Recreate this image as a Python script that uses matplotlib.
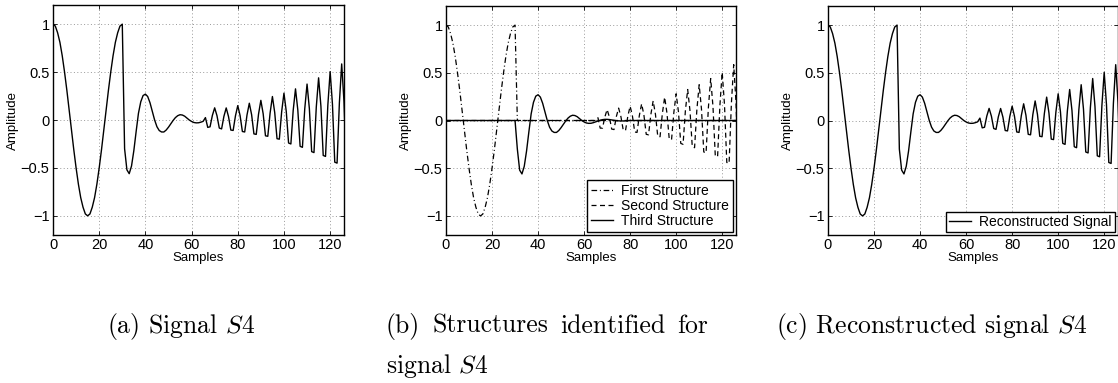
import numpy as np
import matplotlib
matplotlib.use("Agg")
import matplotlib.pyplot as plt

plt.rcParams['font.family'] = ['Liberation Sans', 'DejaVu Sans']
plt.rcParams['mathtext.fontset'] = 'cm'

# ---------------- data ----------------
samples = np.arange(128)

first_structure = [
    1.00, 0.98, 0.91, 0.81, 0.67, 0.50, 0.31, 0.10, -0.10, -0.31,
    -0.50, -0.67, -0.81, -0.91, -0.98, -1.00, -0.98, -0.91, -0.81, -0.67,
    -0.50, -0.31, -0.10, 0.10, 0.31, 0.50, 0.67, 0.81, 0.91, 0.98,
    1.00, 0.0, 0.0, 0.0, 0.0, 0.0, 0.0, 0.0, 0.0, 0.0,
    0.0, 0.0, 0.0, 0.0, 0.0, 0.0, 0.0, 0.0, 0.0, 0.0,
    0.0, 0.0, 0.0, 0.0, 0.0, 0.0, 0.0, 0.0, 0.0, 0.0,
    0.0, 0.0, 0.0, 0.0, 0.0, 0.0, 0.0, 0.0, 0.0, 0.0,
    0.0, 0.0, 0.0, 0.0, 0.0, 0.0, 0.0, 0.0, 0.0, 0.0,
    0.0, 0.0, 0.0, 0.0, 0.0, 0.0, 0.0, 0.0, 0.0, 0.0,
    0.0, 0.0, 0.0, 0.0, 0.0, 0.0, 0.0, 0.0, 0.0, 0.0,
    0.0, 0.0, 0.0, 0.0, 0.0, 0.0, 0.0, 0.0, 0.0, 0.0,
    0.0, 0.0, 0.0, 0.0, 0.0, 0.0, 0.0, 0.0, 0.0, 0.0,
    0.0, 0.0, 0.0, 0.0, 0.0, 0.0, 0.0, 0.0,
]

second_structure = [
    0.0, 0.0, 0.0, 0.0, 0.0, 0.0, 0.0, 0.0, 0.0, 0.0,
    0.0, 0.0, 0.0, 0.0, 0.0, 0.0, 0.0, 0.0, 0.0, 0.0,
    0.0, 0.0, 0.0, 0.0, 0.0, 0.0, 0.0, 0.0, 0.0, 0.0,
    0.0, 0.0, 0.0, 0.0, 0.0, 0.0, 0.0, 0.0, 0.0, 0.0,
    0.0, 0.0, 0.0, 0.0, 0.0, 0.0, 0.0, 0.0, 0.0, 0.0,
    0.0, 0.0, 0.0, 0.0, 0.0, 0.0, 0.0, 0.0, 0.0, 0.0,
    0.0, 0.0, 0.0, 0.0, 0.0, 0.0, 0.03, -0.08, -0.08, 0.035,
    0.115, 0.035, -0.09, -0.095, 0.04, 0.13, 0.04, -0.10, -0.105, 0.045,
    0.15, 0.047, -0.12, -0.125, 0.052, 0.175, 0.055, -0.145, -0.15, 0.062,
    0.205, 0.065, -0.165, -0.17, 0.072, 0.245, 0.078, -0.195, -0.20, 0.085,
    0.28, 0.09, -0.24, -0.25, 0.10, 0.325, 0.105, -0.275, -0.285, 0.115,
    0.375, 0.12, -0.33, -0.34, 0.135, 0.44, 0.145, -0.37, -0.38, 0.155,
    0.505, 0.165, -0.44, -0.45, 0.18, 0.585, 0.19, -0.49,
]

third_structure = [
    0.0, 0.0, 0.0, 0.0, 0.0, 0.0, 0.0, 0.0, 0.0, 0.0,
    0.0, 0.0, 0.0, 0.0, 0.0, 0.0, 0.0, 0.0, 0.0, 0.0,
    0.0, 0.0, 0.0, 0.0, 0.0, 0.0, 0.0, 0.0, 0.0, 0.0,
    0.00, -0.30, -0.52, -0.56, -0.48, -0.32, -0.12, 0.07, 0.19, 0.255,
    0.27, 0.245, 0.18, 0.09, 0.0, -0.07, -0.11, -0.125, -0.125, -0.105,
    -0.075, -0.04, -0.005, 0.025, 0.045, 0.055, 0.052, 0.04, 0.02, 0.0,
    -0.015, -0.026, -0.03, -0.029, -0.023, -0.014, -0.005, 0.003, 0.009, 0.012,
    0.012, 0.01, 0.006, 0.002, -0.002, -0.004, -0.005, -0.005, -0.004, -0.002,
    0.0, 0.0, 0.0, 0.0, 0.0, 0.0, 0.0, 0.0, 0.0, 0.0,
    0.0, 0.0, 0.0, 0.0, 0.0, 0.0, 0.0, 0.0, 0.0, 0.0,
    0.0, 0.0, 0.0, 0.0, 0.0, 0.0, 0.0, 0.0, 0.0, 0.0,
    0.0, 0.0, 0.0, 0.0, 0.0, 0.0, 0.0, 0.0, 0.0, 0.0,
    0.0, 0.0, 0.0, 0.0, 0.0, 0.0, 0.0, 0.0,
]

# the signal is the sum of its three structures (reconstruction)
signal = np.array(first_structure) + np.array(second_structure) + np.array(third_structure)

x_ticks = [0, 20, 40, 60, 80, 100, 120]
x_tick_labels = ['0', '20', '40', '60', '80', '100', '120']
y_ticks = [-1, -0.5, 0, 0.5, 1]
y_tick_labels = ['\u22121', '\u22120.5', '0', '0.5', '1']

legend_b = ['First Structure', 'Second Structure', 'Third Structure']
legend_c = ['Reconstructed Signal']

# ---------------- figure ----------------
W, H = 1118, 383
fig = plt.figure(figsize=(W / 100, H / 100), dpi=100)


def make_axes(left_px, right_px, top_px=6, bottom_px=235):
    return fig.add_axes([left_px / W, 1 - bottom_px / H,
                         (right_px - left_px) / W, (bottom_px - top_px) / H])


def style(ax):
    ax.set_xlim(0, 126)
    ax.set_ylim(-1.2, 1.2)
    ax.set_xticks(x_ticks)
    ax.set_xticklabels(x_tick_labels)
    ax.set_yticks(y_ticks)
    ax.set_yticklabels(y_tick_labels)
    ax.tick_params(direction='in', length=3, width=0.6, top=True, right=True,
                   labelsize=10.5, pad=2.5, colors='black')
    ax.grid(True, linestyle=(0, (1, 2.5)), color='0.6', linewidth=0.7)
    for s in ax.spines.values():
        s.set_linewidth(1.0)
        s.set_color('black')
    ax.set_xlabel('Samples', fontsize=9.5, labelpad=0)
    ax.set_ylabel('Amplitude', fontsize=9.5, labelpad=1)


ax_a = make_axes(53, 344, 5, 235)
ax_b = make_axes(446, 736)
ax_c = make_axes(828, 1118)

# (a)
ax_a.plot(samples, signal, color='black', lw=1.0)
style(ax_a)

# (b)
ax_b.plot(samples, first_structure, color='black', lw=0.9,
          dashes=(4.5, 2.2, 0.8, 2.2), label=legend_b[0])
ax_b.plot(samples, second_structure, color='black', lw=0.9,
          dashes=(4.0, 2.8), label=legend_b[1])
ax_b.plot(samples, third_structure, color='black', lw=1.0, label=legend_b[2])
style(ax_b)
leg = ax_b.legend(loc='lower right', fontsize=10, frameon=True, fancybox=False,
                  framealpha=1, edgecolor='black', borderaxespad=0.25,
                  borderpad=0.25, labelspacing=0.08, handlelength=1.6,
                  handletextpad=0.6)
leg.get_frame().set_linewidth(1.0)

# (c)
ax_c.plot(samples, signal, color='black', lw=1.0, label=legend_c[0])
style(ax_c)
leg = ax_c.legend(loc='lower right', fontsize=10, frameon=True, fancybox=False,
                  framealpha=1, edgecolor='black', borderaxespad=0.25,
                  borderpad=0.2, handlelength=1.6, handletextpad=0.6)
leg.get_frame().set_linewidth(1.0)

# ---------------- captions ----------------
cap_size = 18.5
cap_font = 'cmr10'
y1 = 1 - 326 / H
y2 = 1 - 366 / H

fig.text(107 / W, y1, r'(a) Signal $\mathit{S4}$', family=cap_font, fontsize=cap_size,
         va='center', ha='left')
fig.text(776 / W, y1, r'(c) Reconstructed signal $\mathit{S4}$', family=cap_font,
         fontsize=cap_size, va='center', ha='left')

words = ['(b)', 'Structures', 'identified', 'for']
x_start, x_end = 386, 708
renderer = fig.canvas.get_renderer()
txts = [fig.text(0, y1, w, family=cap_font, fontsize=cap_size, va='center', ha='left')
        for w in words]
widths = [t.get_window_extent(renderer).width for t in txts]
gap = (x_end - x_start - sum(widths)) / (len(words) - 1)
xp = x_start
for t, w in zip(txts, widths):
    t.set_x(xp / W)
    xp += w + gap
fig.text(386 / W, y2, r'signal $\mathit{S4}$', family=cap_font, fontsize=cap_size,
         va='center', ha='left')

fig.savefig('out.png', dpi=100)
